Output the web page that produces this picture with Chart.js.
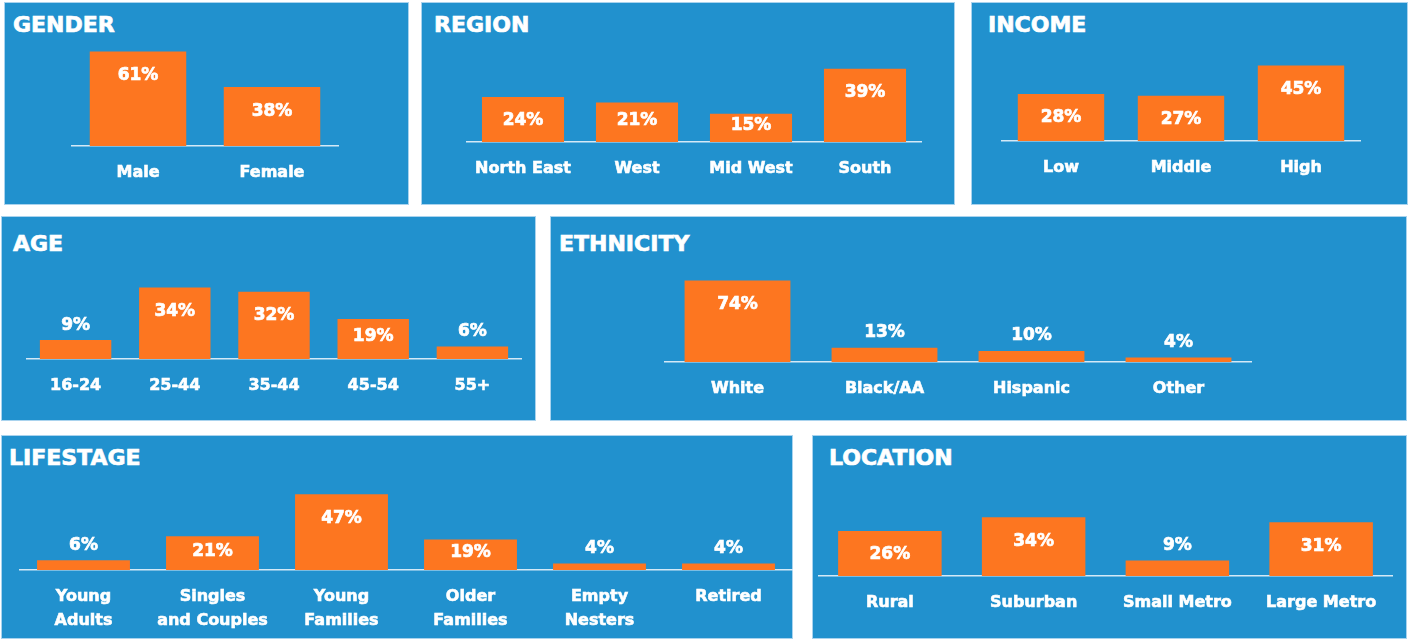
<!DOCTYPE html>
<html>
<head>
<meta charset="utf-8">
<script src="https://cdn.jsdelivr.net/npm/chart.js@4.4.1/dist/chart.umd.min.js"></script>
<style>
  html, body { margin: 0; padding: 0; background: #ffffff; }
  body { width: 1408px; height: 639px; position: relative; overflow: hidden; font-family: "DejaVu Sans", sans-serif; }
  .panel { position: absolute; background: #2191ce; border: 1px solid #a9d3ee; box-sizing: border-box; }
  .title { position: absolute; color: #ffffff; font: bold 22px "DejaVu Sans", sans-serif; line-height: 22px; -webkit-text-stroke: 0.7px #ffffff; }
  canvas { position: absolute; }
</style>
</head>
<body>
<script>
// Valeurs (en %)
const genderLabels = ['Male', 'Female'];
const genderValues = [61, 38];

const regionLabels = ['North East', 'West', 'Mid West', 'South'];
const regionValues = [24, 21, 15, 39];

const incomeLabels = ['Low', 'Middle', 'High'];
const incomeValues = [28, 27, 45];

const ageLabels = ['16-24', '25-44', '35-44', '45-54', '55+'];
const ageValues = [9, 34, 32, 19, 6];

const ethnicityLabels = ['White', 'Black/AA', 'Hispanic', 'Other'];
const ethnicityValues = [74, 13, 10, 4];

const lifestageLabels = [['Young', 'Adults'], ['Singles', 'and Couples'], ['Young', 'Families'], ['Older', 'Families'], ['Empty', 'Nesters'], ['Retired']];
const lifestageValues = [6, 21, 47, 19, 4, 4];

const locationLabels = ['Rural', 'Suburban', 'Small Metro', 'Large Metro'];
const locationValues = [26, 34, 9, 31];

const ORANGE = '#fd7620';

// Mise en page : cadre du panneau, position du titre, zone du graphique
const panels = [
  { title: 'GENDER', labels: genderLabels, values: genderValues,
    box: [4, 2, 405, 203], titleAt: [13, 14], x0: 71, x1: 339, base: 146, ppp: 1.55 },
  { title: 'REGION', labels: regionLabels, values: regionValues,
    box: [421, 2, 534, 203], titleAt: [434, 14], x0: 466, x1: 922, base: 142, ppp: 1.88 },
  { title: 'INCOME', labels: incomeLabels, values: incomeValues,
    box: [971, 2, 437, 203], titleAt: [988, 14], x0: 1001, x1: 1361, base: 141, ppp: 1.68 },
  { title: 'AGE', labels: ageLabels, values: ageValues,
    box: [1, 216, 535, 205], titleAt: [13, 233], x0: 26, x1: 522, base: 359, ppp: 2.1 },
  { title: 'ETHNICITY', labels: ethnicityLabels, values: ethnicityValues,
    box: [550, 216, 857, 205], titleAt: [559, 233], x0: 664, x1: 1252, base: 362, ppp: 1.1 },
  { title: 'LIFESTAGE', labels: lifestageLabels, values: lifestageValues,
    box: [1, 435, 792, 204], titleAt: [9, 447], x0: 19, x1: 793, base: 570, ppp: 1.61, axisH: 68 },
  { title: 'LOCATION', labels: locationLabels, values: locationValues,
    box: [812, 435, 595, 204], titleAt: [829, 447], x0: 818, x1: 1393, base: 576, ppp: 1.73 }
];

const PLOT_H = 100;

// Étiquettes de valeur : dans la barre si elle est assez haute, sinon au-dessus
const valueLabels = {
  id: 'valueLabels',
  afterDatasetsDraw(chart) {
    const ctx = chart.ctx;
    const meta = chart.getDatasetMeta(0);
    ctx.save();
    ctx.fillStyle = '#ffffff';
    ctx.strokeStyle = '#ffffff';
    ctx.lineWidth = 0.7;
    ctx.font = 'bold 17px "DejaVu Sans", sans-serif';
    ctx.textAlign = 'center';
    ctx.textBaseline = 'middle';
    meta.data.forEach((bar, i) => {
      const h = bar.base - bar.y;
      let y;
      if (h < 22) y = bar.y - 15;
      else if (h < 42) y = bar.y + h / 2 - 2;
      else y = bar.y + 24;
      const txt = chart.data.datasets[0].data[i] + '%';
      ctx.fillText(txt, bar.x, y);
      ctx.strokeText(txt, bar.x, y);
    });
    ctx.restore();
  }
};

panels.forEach(p => {
  const div = document.createElement('div');
  div.className = 'panel';
  div.style.left = p.box[0] + 'px';
  div.style.top = p.box[1] + 'px';
  div.style.width = p.box[2] + 'px';
  div.style.height = p.box[3] + 'px';
  document.body.appendChild(div);

  const t = document.createElement('div');
  t.className = 'title';
  t.textContent = p.title;
  t.style.left = p.titleAt[0] + 'px';
  t.style.top = p.titleAt[1] + 'px';
  document.body.appendChild(t);

  const axisH = p.axisH || 48;
  const canvas = document.createElement('canvas');
  const w = p.x1 - p.x0;
  const h = PLOT_H + axisH;
  canvas.width = w;
  canvas.height = h;
  canvas.style.left = p.x0 + 'px';
  canvas.style.top = (p.base - PLOT_H) + 'px';
  canvas.style.width = w + 'px';
  canvas.style.height = h + 'px';
  document.body.appendChild(canvas);

  new Chart(canvas.getContext('2d'), {
    type: 'bar',
    data: {
      labels: p.labels,
      datasets: [{
        data: p.values,
        backgroundColor: ORANGE,
        borderWidth: 0,
        categoryPercentage: 0.72,
        barPercentage: 1
      }]
    },
    options: {
      responsive: false,
      animation: false,
      events: [],
      layout: { padding: 0 },
      plugins: { legend: { display: false }, tooltip: { enabled: false } },
      scales: {
        x: {
          grid: { display: false },
          border: { display: true, color: '#d4e9f7', width: 1.5 },
          ticks: {
            color: '#ffffff',
            textStrokeColor: '#ffffff',
            textStrokeWidth: 0.6,
            font: { family: '"DejaVu Sans", sans-serif', size: 16, weight: 'bold', lineHeight: 1.5 },
            padding: 7,
            maxRotation: 0,
            autoSkip: false
          },
          afterFit: axis => { axis.height = axisH; }
        },
        y: {
          display: false,
          min: 0,
          max: PLOT_H / p.ppp
        }
      }
    },
    plugins: [valueLabels]
  });
});
</script>
</body>
</html>
